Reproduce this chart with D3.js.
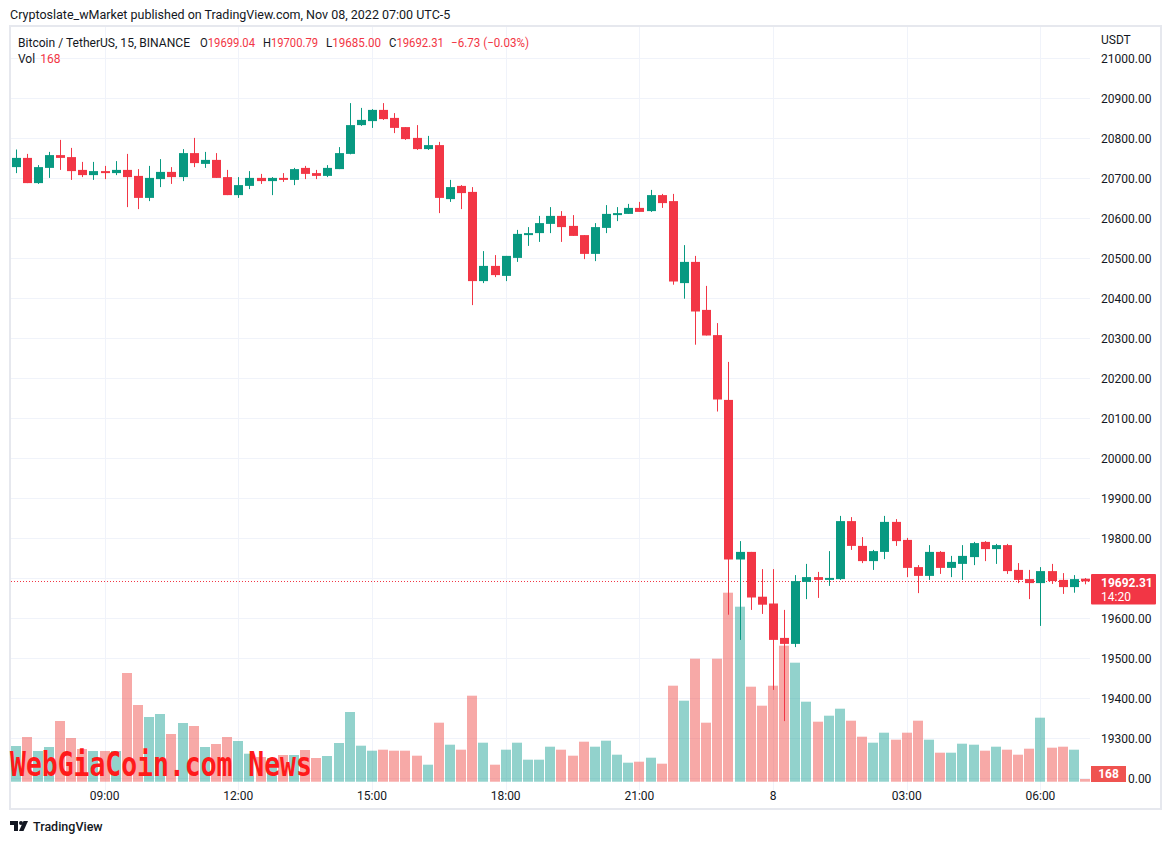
<!DOCTYPE html>
<html><head><meta charset="utf-8">
<script src="https://cdn.jsdelivr.net/npm/d3@7"></script>
<style>
html,body{margin:0;padding:0;background:#fff;}
svg{display:block;font-family:Roboto,"Liberation Sans",sans-serif;}
</style></head>
<body>
<svg id="chart" width="1171" height="845"></svg>
<script>
// ---- data (15-minute candles, Nov 7 07:00 -> Nov 8 07:00, UTC-5) ----
const opens = [20728,20751,20688,20726,20758,20753,20721,20708,20718,20713,20721,20706,20651,20698,20716,20703,20763,20736,20746,20703,20658,20681,20701,20693,20701,20696,20726,20713,20706,20723,20761,20833,20843,20871,20851,20828,20801,20773,20783,20648,20681,20666,20443,20481,20456,20501,20558,20563,20586,20606,20581,20558,20511,20576,20608,20611,20626,20618,20658,20643,20438,20491,20371,20308,20146,19747,19766,19654,19637,19551,19536,19691,19703,19696,19698,19843,19781,19743,19766,19841,19796,19728,19706,19766,19726,19736,19753,19791,19773,19783,19721,19698,19688,19718,19696,19678,19699.04];
const highs = [20772,20761,20733,20766,20796,20776,20741,20741,20731,20743,20761,20723,20731,20748,20728,20773,20801,20766,20763,20721,20703,20718,20711,20703,20713,20726,20731,20721,20733,20778,20888,20876,20873,20888,20863,20828,20833,20806,20791,20696,20683,20678,20518,20508,20506,20571,20578,20606,20628,20618,20608,20558,20588,20633,20628,20636,20641,20671,20661,20661,20533,20506,20431,20338,20241,19793,19766,19723,19723,19621,19708,19736,19716,19768,19856,19853,19803,19771,19856,19848,19801,19733,19783,19768,19756,19783,19791,19793,19786,19786,19738,19721,19728,19736,19713,19708,19700.79];
const lows = [20713,20688,20686,20701,20721,20696,20703,20696,20698,20708,20628,20623,20643,20678,20686,20693,20728,20726,20701,20658,20651,20673,20686,20658,20691,20683,20698,20698,20703,20723,20760,20831,20826,20846,20813,20796,20771,20771,20613,20641,20623,20383,20438,20453,20443,20491,20531,20541,20563,20541,20556,20498,20493,20563,20593,20611,20616,20616,20626,20434,20399,20284,20307,20117,19609,19546,19621,19611,19421,19343,19528,19648,19651,19681,19696,19771,19738,19721,19748,19781,19703,19663,19696,19711,19703,19696,19733,19743,19736,19711,19688,19648,19581,19686,19661,19664,19685.00];
const closes = [20751,20688,20728,20758,20751,20718,20708,20718,20713,20721,20703,20651,20701,20716,20703,20763,20738,20746,20701,20658,20683,20701,20693,20701,20696,20723,20711,20706,20726,20763,20833,20846,20871,20848,20826,20798,20773,20783,20651,20678,20663,20443,20481,20458,20506,20561,20563,20588,20606,20578,20556,20511,20578,20611,20613,20626,20616,20658,20638,20442,20491,20367,20307,20147,19747,19766,19652,19634,19546,19536,19693,19703,19696,19701,19843,19781,19743,19768,19841,19793,19726,19706,19766,19726,19741,19756,19788,19773,19783,19718,19696,19688,19718,19693,19678,19698,19692.31];
const volumes = [2213,2771,1903,2151,3763,2709,2027,1903,1903,1903,6739,4755,4011,4197,2957,3639,3453,2151,2337,2771,2523,1736,1531,1469,1655,1655,1965,1469,1593,2399,4321,2232,1922,1984,1922,1922,1612,1054,3658,2294,1984,5332,2418,1054,1984,2418,1364,1364,2170,1984,1612,2480,2170,2542,1674,1178,1240,1488,1116,5952,5022,7626,3658,7626,11718,10850,5890,4712,5952,8432,7378,4960,3720,4092,4526,3782,2790,2418,3038,2604,3038,3782,2604,1798,1798,2356,2294,1922,2170,1984,1674,2046,3968,2108,2170,1984,168];
const priceTicks = [21000,20900,20800,20700,20600,20500,20400,20300,20200,20100,20000,19900,19800,19700,19600,19500,19400,19300,19200];
const timeTickIdx = [8,20,32,44,56,68,80,92];
const timeTickLabels = ["09:00","12:00","15:00","18:00","21:00","8","03:00","06:00"];
const lastPrice = 19692.31, lastVol = 168, countdown = "14:20";

const GREEN = "#089981", RED = "#f23645";
const VGREEN = "rgba(38,166,154,0.5)", VRED = "rgba(239,83,80,0.5)";
const TXT = "#131722", GRID = "#f0f3fa";

const svg = d3.select("#chart");
const defs = svg.append("defs");
defs.append("clipPath").attr("id", "volLblClip").append("rect")
  .attr("x", 1126).attr("y", 760).attr("width", 40).attr("height", 30);

const x = d3.scaleLinear().domain([0, 96]).range([15.5, 1085]);
const y = d3.scaleLinear().domain([19600, 21000]).range([618.3, 58.3]);
const vy = d3.scaleLinear().domain([0, 11718]).range([781.7, 592.7]);

// header
svg.append("text").attr("x", 10).attr("y", 19).attr("font-size", 12.5).attr("fill", TXT)
  .text("Cryptoslate_wMarket published on TradingView.com, Nov 08, 2022 07:00 UTC-5");

// frame
svg.append("rect").attr("x", 10).attr("y", 26).attr("width", 1151).attr("height", 783)
  .attr("fill", "none").attr("stroke", "#e6e8ee").attr("stroke-width", 2);

const plot = svg.append("g");
// grid
plot.selectAll("line.h").data(priceTicks).enter().append("line")
  .attr("x1", 11).attr("x2", 1090).attr("y1", d => Math.round(y(d)) + 0.5).attr("y2", d => Math.round(y(d)) + 0.5)
  .attr("stroke", GRID).attr("stroke-width", 1);
plot.selectAll("line.v").data(timeTickIdx).enter().append("line")
  .attr("x1", d => Math.round(x(d)) + 0.5).attr("x2", d => Math.round(x(d)) + 0.5)
  .attr("y1", 27).attr("y2", 790)
  .attr("stroke", GRID).attr("stroke-width", 1);

// volume bars
const idx = d3.range(opens.length);
plot.selectAll("rect.vol").data(idx).enter().append("rect")
  .attr("x", i => Math.round(x(i)) - 5).attr("width", 10)
  .attr("y", i => vy(volumes[i])).attr("height", i => vy(0) - vy(volumes[i]))
  .attr("fill", i => closes[i] >= opens[i] ? VGREEN : VRED);

// watermark
svg.append("text").attr("x", 10).attr("y", 776)
  .attr("font-family", "'DejaVu Sans Mono', monospace").attr("font-weight", "bold")
  .attr("font-size", 26.4).attr("fill", "#ff1a1a")
  .attr("transform", "translate(0,776) scale(1,1.25) translate(0,-776)")
  .text("WebGiaCoin.com News");

// price line
plot.append("line").attr("x1", 11).attr("x2", 1091)
  .attr("y1", Math.round(y(lastPrice)) + 0.5).attr("y2", Math.round(y(lastPrice)) + 0.5)
  .attr("stroke", RED).attr("stroke-width", 1).attr("stroke-dasharray", "1,2");

// candles
const cg = plot.selectAll("g.c").data(idx).enter().append("g");
cg.append("rect")
  .attr("x", i => Math.round(x(i)))
  .attr("width", 1)
  .attr("y", i => y(highs[i]))
  .attr("height", i => Math.max(1, y(lows[i]) - y(highs[i])))
  .attr("fill", i => closes[i] >= opens[i] ? GREEN : RED);
cg.append("rect")
  .attr("x", i => Math.round(x(i)) - 4)
  .attr("width", 9)
  .attr("y", i => y(Math.max(opens[i], closes[i])))
  .attr("height", i => Math.max(1, Math.abs(y(opens[i]) - y(closes[i]))))
  .attr("fill", i => closes[i] >= opens[i] ? GREEN : RED);

// price axis (labels hidden under the last-price tag are not drawn)
const ly = y(lastPrice);
svg.append("text").attr("x", 1101).attr("y", 44).attr("font-size", 12).attr("fill", TXT).text("USDT");
const ptl = svg.selectAll("text.pt").data(priceTicks.filter(d => Math.abs(y(d) - ly) > 16 && d !== 19200)).enter().append("text")
  .attr("x", 1101).attr("y", d => y(d)).attr("dy", "0.35em")
  .attr("font-size", 12).attr("fill", TXT).text(d => d3.format(".2f")(d));
// bottom tick: only its right part shows beside the volume tag
const rightEdge = 1101 + ptl.nodes()[ptl.size() - 1].getComputedTextLength();
svg.append("text").attr("clip-path", "url(#volLblClip)")
  .attr("x", rightEdge).attr("text-anchor", "end").attr("y", y(19200)).attr("dy", "0.35em")
  .attr("font-size", 12).attr("fill", TXT).text(d3.format(".2f")(19200).slice(-4));

// last price label
svg.append("rect").attr("x", 1091).attr("y", 574).attr("width", 65).attr("height", 30.5).attr("rx", 1).attr("fill", RED);
svg.append("text").attr("x", 1101).attr("y", 582.5).attr("dy", "0.35em").attr("font-size", 12).attr("font-weight", "bold").attr("fill", "#fff").text(d3.format(".2f")(lastPrice));
svg.append("text").attr("x", 1101).attr("y", 597).attr("dy", "0.35em").attr("font-size", 12).attr("fill", "#fff").text(countdown);

// volume label
svg.append("rect").attr("x", 1091).attr("y", 766).attr("width", 35).attr("height", 16).attr("fill", "#ef5350");
svg.append("text").attr("x", 1108.5).attr("y", 774).attr("dy", "0.35em").attr("text-anchor", "middle").attr("font-size", 12).attr("font-weight", "bold").attr("fill", "#fff").text(lastVol);

// time axis
svg.selectAll("text.tt").data(timeTickIdx).enter().append("text")
  .attr("x", d => x(d)).attr("y", 796).attr("dy", "0.35em").attr("text-anchor", "middle")
  .attr("font-size", 12).attr("fill", TXT).text((d, k) => timeTickLabels[k]);

// legend
svg.append("text").attr("x", 18).attr("y", 42.5).attr("dy", "0.35em").attr("font-size", 12).attr("fill", TXT)
  .attr("textLength", 172).attr("lengthAdjust", "spacingAndGlyphs")
  .text("Bitcoin / TetherUS, 15, BINANCE");
const ohlc = [["O", opens[96]], ["H", highs[96]], ["L", lows[96]], ["C", closes[96]]];
const legX = [200, 263, 326, 389];
ohlc.forEach((d, k) => {
  const t = svg.append("text").attr("x", legX[k]).attr("y", 42.5).attr("dy", "0.35em").attr("font-size", 12)
    .attr("textLength", 55).attr("lengthAdjust", "spacingAndGlyphs");
  t.append("tspan").attr("fill", TXT).text(d[0]);
  t.append("tspan").attr("fill", RED).text(d3.format(".2f")(d[1]));
});
svg.append("text").attr("x", 451).attr("y", 42.5).attr("dy", "0.35em").attr("font-size", 12).attr("fill", RED)
  .attr("textLength", 78).attr("lengthAdjust", "spacingAndGlyphs")
  .text("\u22126.73 (\u22120.03%)");
const vl = svg.append("text").attr("x", 18).attr("y", 59).attr("dy", "0.35em").attr("font-size", 12);
vl.append("tspan").attr("fill", TXT).text("Vol");
vl.append("tspan").attr("fill", RED).attr("dx", 5).text(lastVol);

// TradingView logo
const lg = svg.append("g").attr("transform", "translate(10,821)");
lg.append("path").attr("d", "M0 0 H8 V10 H4 V4 H0 Z").attr("fill", TXT);
lg.append("circle").attr("cx", 11).attr("cy", 2).attr("r", 2).attr("fill", TXT);
lg.append("path").attr("d", "M13.5 0 H18 L13.5 10 H9 Z").attr("fill", TXT);
svg.append("text").attr("x", 33).attr("y", 827).attr("dy", "0.35em").attr("font-size", 12.5).attr("font-weight", 500).attr("fill", TXT).text("TradingView");
</script>
</body></html>
